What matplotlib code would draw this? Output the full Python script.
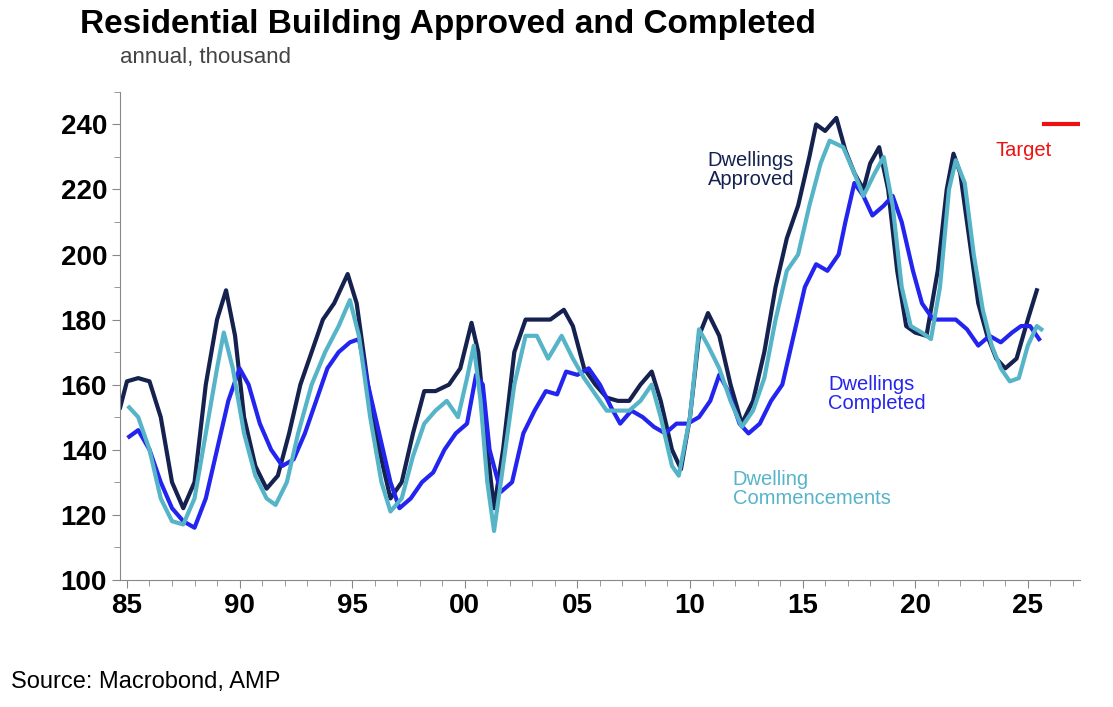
import matplotlib
matplotlib.use("Agg")
import matplotlib.pyplot as plt
from matplotlib.ticker import MultipleLocator, FixedLocator

plt.rcParams["font.family"] = ["Liberation Sans", "DejaVu Sans"]

# ---- data (fractional years, thousand dwellings, annual) ----
appr_x = [1984.7, 1985.0, 1985.5, 1986.0, 1986.5, 1987.0, 1987.5, 1988.0, 1988.5, 1989.0,
          1989.4, 1989.8, 1990.2, 1990.7, 1991.2, 1991.7, 1992.2, 1992.7, 1993.2, 1993.7,
          1994.2, 1994.8, 1995.2, 1995.7, 1996.2, 1996.7, 1997.2, 1997.7, 1998.2, 1998.7,
          1999.3, 1999.8, 2000.3, 2000.6, 2001.0, 2001.3, 2001.7, 2002.2, 2002.7, 2003.2,
          2003.8, 2004.4, 2004.8, 2005.3, 2005.8, 2006.3, 2006.8, 2007.3, 2007.8, 2008.3,
          2008.7, 2009.2, 2009.6, 2010.0, 2010.4, 2010.8, 2011.3, 2011.8, 2012.3, 2012.8,
          2013.3, 2013.8, 2014.3, 2014.8, 2015.3, 2015.6, 2016.0, 2016.5, 2016.9, 2017.3,
          2017.7, 2018.0, 2018.4, 2018.8, 2019.2, 2019.6, 2020.0, 2020.5, 2021.0, 2021.4,
          2021.7, 2022.0, 2022.4, 2022.8, 2023.2, 2023.6, 2024.0, 2024.5, 2025.0, 2025.4]
appr_y = [153, 161, 162, 161, 150, 130, 122, 130, 160, 180,
          189, 175, 150, 135, 128, 132, 145, 160, 170, 180,
          185, 194, 185, 160, 140, 125, 130, 145, 158, 158,
          160, 165, 179, 170, 140, 122, 140, 170, 180, 180,
          180, 183, 178, 165, 160, 156, 155, 155, 160, 164,
          155, 140, 134, 150, 175, 182, 175, 160, 148, 155,
          170, 190, 205, 215, 230, 240, 238, 242, 232, 225,
          220, 228, 233, 220, 195, 178, 176, 175, 195, 220,
          231, 225, 205, 185, 175, 168, 165, 168, 180, 189]

comm_x = [1985.1, 1985.5, 1986.0, 1986.5, 1987.0, 1987.5, 1988.0, 1988.5, 1989.0, 1989.3,
          1989.7, 1990.2, 1990.7, 1991.2, 1991.6, 1992.1, 1992.6, 1993.2, 1993.8, 1994.4,
          1994.9, 1995.3, 1995.8, 1996.3, 1996.7, 1997.2, 1997.7, 1998.2, 1998.7, 1999.2,
          1999.7, 2000.1, 2000.4, 2000.7, 2001.0, 2001.3, 2001.7, 2002.2, 2002.7, 2003.2,
          2003.7, 2004.3, 2004.8, 2005.3, 2005.8, 2006.3, 2006.8, 2007.3, 2007.8, 2008.3,
          2008.7, 2009.2, 2009.5, 2010.0, 2010.4, 2010.8, 2011.3, 2011.8, 2012.3, 2012.8,
          2013.3, 2013.8, 2014.3, 2014.8, 2015.3, 2015.8, 2016.2, 2016.8, 2017.3, 2017.7,
          2018.2, 2018.6, 2019.0, 2019.4, 2019.8, 2020.3, 2020.7, 2021.1, 2021.5, 2021.8,
          2022.2, 2022.6, 2023.0, 2023.4, 2023.8, 2024.2, 2024.6, 2025.0, 2025.4, 2025.6]
comm_y = [153, 150, 140, 125, 118, 117, 125, 145, 165, 176,
          165, 145, 132, 125, 123, 130, 145, 160, 170, 178,
          186, 175, 150, 130, 121, 125, 138, 148, 152, 155,
          150, 162, 172, 155, 130, 115, 135, 160, 175, 175,
          168, 175, 168, 162, 157, 152, 152, 152, 155, 160,
          150, 135, 132, 150, 177, 172, 165, 155, 147, 152,
          162, 180, 195, 200, 215, 228, 235, 233, 225, 218,
          225, 230, 215, 190, 178, 176, 174, 190, 220, 229,
          222, 200, 183, 172, 165, 161, 162, 172, 178, 177]

comp_x = [1985.1, 1985.5, 1986.0, 1986.5, 1987.0, 1987.5, 1988.0, 1988.5, 1989.0, 1989.5,
          1990.0, 1990.4, 1990.9, 1991.4, 1991.9, 1992.4, 1992.9, 1993.4, 1993.9, 1994.4,
          1994.9, 1995.3, 1995.7, 1996.2, 1996.7, 1997.1, 1997.6, 1998.1, 1998.6, 1999.1,
          1999.6, 2000.1, 2000.5, 2000.8, 2001.1, 2001.6, 2002.1, 2002.6, 2003.1, 2003.6,
          2004.1, 2004.5, 2005.0, 2005.5, 2006.0, 2006.5, 2006.9, 2007.4, 2007.9, 2008.4,
          2008.9, 2009.4, 2009.9, 2010.4, 2010.9, 2011.3, 2011.7, 2012.2, 2012.6, 2013.1,
          2013.6, 2014.1, 2014.6, 2015.1, 2015.6, 2016.1, 2016.6, 2016.9, 2017.3, 2017.7,
          2018.1, 2018.6, 2019.0, 2019.4, 2019.9, 2020.3, 2020.8, 2021.3, 2021.8, 2022.3,
          2022.8, 2023.3, 2023.8, 2024.3, 2024.7, 2025.1, 2025.5]
comp_y = [144, 146, 140, 130, 122, 118, 116, 125, 140, 155,
          165, 160, 148, 140, 135, 137, 145, 155, 165, 170,
          173, 174, 160, 145, 130, 122, 125, 130, 133, 140,
          145, 148, 163, 160, 140, 127, 130, 145, 152, 158,
          157, 164, 163, 165, 160, 153, 148, 152, 150, 147,
          145, 148, 148, 150, 155, 163, 158, 148, 145, 148,
          155, 160, 175, 190, 197, 195, 200, 210, 222, 218,
          212, 215, 218, 210, 195, 185, 180, 180, 180, 177,
          172, 175, 173, 176, 178, 178, 174]

target_x = [2025.7, 2027.3]
target_y = [240, 240]

NAVY, TEAL, BLUE, RED = "#15224f", "#56b4c9", "#2424f0", "#ee1111"

fig = plt.figure(figsize=(11.13, 7.07), dpi=100)
ax = fig.add_axes([0.108, 0.180, 0.862, 0.690])

ax.plot(appr_x, appr_y, color=NAVY, lw=3)
ax.plot(comp_x, comp_y, color=BLUE, lw=3)
ax.plot(comm_x, comm_y, color=TEAL, lw=3)
ax.plot(target_x, target_y, color=RED, lw=3)

ax.set_xlim(1984.7, 2027.3)
ax.set_ylim(100, 250)
ax.yaxis.set_major_locator(FixedLocator(range(100, 241, 20)))
ax.yaxis.set_minor_locator(MultipleLocator(10))
ax.xaxis.set_major_locator(FixedLocator(range(1985, 2026, 5)))
ax.xaxis.set_minor_locator(MultipleLocator(1))
ax.set_xticklabels([f"{y % 100:02d}" for y in range(1985, 2026, 5)])
for s in ("top", "right"):
    ax.spines[s].set_visible(False)
for s in ("left", "bottom"):
    ax.spines[s].set_color("#888888")
ax.tick_params(axis="both", which="major", labelsize=20, color="#888888", length=6)
ax.tick_params(axis="both", which="minor", color="#888888", length=4)
for lbl in ax.get_xticklabels() + ax.get_yticklabels():
    lbl.set_fontweight("bold")

lab = dict(fontsize=14.5, ha="center", va="center", linespacing=1.0,
           multialignment="left")
ax.text(2012.7, 226, "Dwellings\nApproved", color=NAVY, **lab)
ax.text(2024.8, 232, "Target", color=RED, **lab)
ax.text(2018.3, 157, "Dwellings\nCompleted", color=BLUE, **lab)
ax.text(2015.4, 128, "Dwelling\nCommencements", color=TEAL, **lab)

fig.text(0.072, 0.965, "Residential Building Approved and Completed",
         fontsize=24, fontweight="bold", ha="left", va="center")
fig.text(0.108, 0.918, "annual, thousand", fontsize=16, color="#444444",
         ha="left", va="center")
fig.text(0.01, 0.035, "Source: Macrobond, AMP", fontsize=17, ha="left", va="center")

fig.savefig("out.png", dpi=100, facecolor="white")
